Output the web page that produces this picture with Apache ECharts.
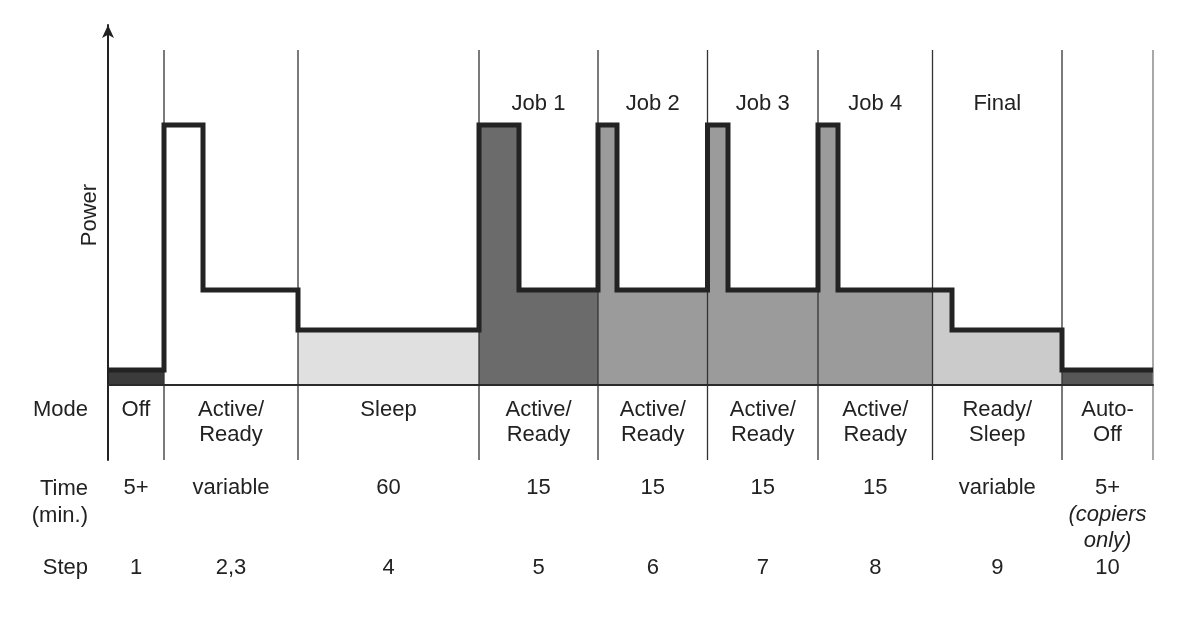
<!DOCTYPE html>
<html>
<head>
<meta charset="utf-8">
<script src="https://cdn.jsdelivr.net/npm/echarts@6/dist/echarts.min.js"></script>
<style>html,body{margin:0;padding:0;background:#fff}#c{width:1183px;height:624px}</style>
</head>
<body>
<div id="c"></div>
<script>
// Segment boundaries (schematic time units along x)
const bounds = [0, 56, 190, 371, 490, 599.5, 710, 824.5, 954, 1045];
// Times at which the power level changes, and the level held from then on
const changeTimes = [0, 56, 95, 190, 371, 411, 490, 509, 599.5, 620, 710, 730, 844, 954, 1045];
const powerLevels = [15, 260, 95, 55, 260, 95, 260, 95, 260, 95, 260, 95, 55, 15, 15];
// Fill colour of each segment (null = no fill)
const fillColors = ['#3b3b3b', null, '#e0e0e0', '#6b6b6b', '#9b9b9b', '#9b9b9b', '#9b9b9b', '#cbcbcb', '#575757'];
// Table text
const modeLabels = ['Off', 'Active/\nReady', 'Sleep', 'Active/\nReady', 'Active/\nReady', 'Active/\nReady', 'Active/\nReady', 'Ready/\nSleep', 'Auto-\nOff'];
const timeLabels = ['5+', 'variable', '60', '15', '15', '15', '15', 'variable', '5+'];
const timeNotes = ['', '', '', '', '', '', '', '', '(copiers\nonly)'];
const stepLabels = ['1', '2,3', '4', '5', '6', '7', '8', '9', '10'];
const jobLabels = ['', '', '', 'Job 1', 'Job 2', 'Job 3', 'Job 4', 'Final', ''];
const rowHeaders = ['Mode', 'Time\n(min.)', 'Step'];
const axisName = 'Power';

const FONT = '"Liberation Sans", Arial, Helvetica, sans-serif';
const TXT = '#222';
const FS = 22;

function levelBefore(t) { // level held just before t
  let lv = powerLevels[0];
  for (let i = 0; i < changeTimes.length; i++) { if (changeTimes[i] < t) lv = powerLevels[i]; }
  return lv;
}
function levelAt(t) {
  let lv = powerLevels[0];
  for (let i = 0; i < changeTimes.length; i++) { if (changeTimes[i] <= t) lv = powerLevels[i]; }
  return lv;
}
function segmentData(b0, b1) {
  const d = [[b0, levelAt(b0)]];
  for (let i = 0; i < changeTimes.length; i++) {
    if (changeTimes[i] > b0 && changeTimes[i] < b1) d.push([changeTimes[i], powerLevels[i]]);
  }
  d.push([b1, levelBefore(b1)]);
  return d;
}
const mids = bounds.slice(0, -1).map((b, i) => (b + bounds[i + 1]) / 2);

const series = [];
fillColors.forEach((c, i) => {
  if (!c) return;
  series.push({
    type: 'line', step: 'end', z: 2, silent: true, symbol: 'none',
    data: segmentData(bounds[i], bounds[i + 1]),
    lineStyle: { width: 0, opacity: 0 },
    areaStyle: { color: c, opacity: 1, origin: 0 }
  });
});
// dividers
series.push({
  type: 'custom', z: 3, silent: true,
  data: bounds.slice(1).map(b => [b, 335, -75]),
  encode: { x: 0, y: [1, 2] },
  renderItem: function (params, api) {
    const p1 = api.coord([api.value(0), api.value(1)]);
    const p2 = api.coord([api.value(0), api.value(2)]);
    const last = params.dataIndex === bounds.length - 2;
    return { type: 'line', shape: { x1: p1[0], y1: p1[1], x2: p2[0], y2: p2[1] },
      style: { stroke: last ? '#7a7a7a' : '#333', lineWidth: 1.3 } };
  }
});
// power profile line
series.push({
  type: 'line', step: 'end', z: 5, silent: true, symbol: 'none',
  data: changeTimes.map((t, i) => [t, powerLevels[i]]),
  lineStyle: { color: '#232323', width: 5, join: 'miter', cap: 'butt' }
});

function textSeries(xs, y, texts, opts) {
  return {
    type: 'custom', z: 6, silent: true,
    data: xs.map(x => [x, y]),
    encode: { x: 0, y: 1 },
    renderItem: function (params, api) {
      const t = texts[params.dataIndex];
      if (!t) return null;
      const p = api.coord([api.value(0), api.value(1)]);
      return { type: 'text', x: p[0], y: p[1], rotation: opts.rotation || 0,
        style: { text: t, fill: TXT, fontSize: FS, fontFamily: FONT,
          align: opts.align || 'center', verticalAlign: opts.va || 'top',
          lineHeight: opts.lh || 25,
          rich: { i: { fontStyle: 'italic', fontSize: FS, fontFamily: FONT, fill: TXT, lineHeight: opts.lh || 25 } } } };
    }
  };
}
const timeTexts = timeLabels.map((t, i) => timeNotes[i] ? t + '\n' + timeNotes[i].split('\n').map(s => '{i|' + s + '}').join('\n') : t);

series.push(textSeries(mids, -12.5, modeLabels, { lh: 25 }));
series.push(textSeries(mids, -90, timeTexts, { lh: 26.5 }));
series.push(textSeries(mids, -170, stepLabels, { lh: 26 }));
series.push(textSeries(mids, 281, jobLabels, { va: 'middle' }));
series.push(textSeries([-20], -12.5, [rowHeaders[0]], { align: 'right', lh: 25 }));
series.push(textSeries([-20], -90, [rowHeaders[1]], { align: 'right', lh: 27 }));
series.push(textSeries([-20], -170, [rowHeaders[2]], { align: 'right', lh: 26 }));
series.push(textSeries([-18], 170, [axisName], { va: 'middle', rotation: Math.PI / 2 }));

const chart = echarts.init(document.getElementById('c'), null, { renderer: 'canvas' });
chart.setOption({
  animation: false,
  backgroundColor: '#fff',
  grid: { left: 108, right: 30, top: 25, bottom: 164 },
  xAxis: { type: 'value', min: 0, max: 1045, z: 4,
    axisLine: { show: true, onZero: true, lineStyle: { color: '#2a2a2a', width: 2 } },
    axisTick: { show: false }, axisLabel: { show: false }, splitLine: { show: false } },
  yAxis: { type: 'value', min: -75, max: 360, z: 4,
    axisLine: { show: true, onZero: false, symbol: ['none', 'arrow'], symbolSize: [9, 13], lineStyle: { color: '#222', width: 2 } },
    axisTick: { show: false }, axisLabel: { show: false }, splitLine: { show: false } },
  series: series
});
</script>
</body>
</html>
